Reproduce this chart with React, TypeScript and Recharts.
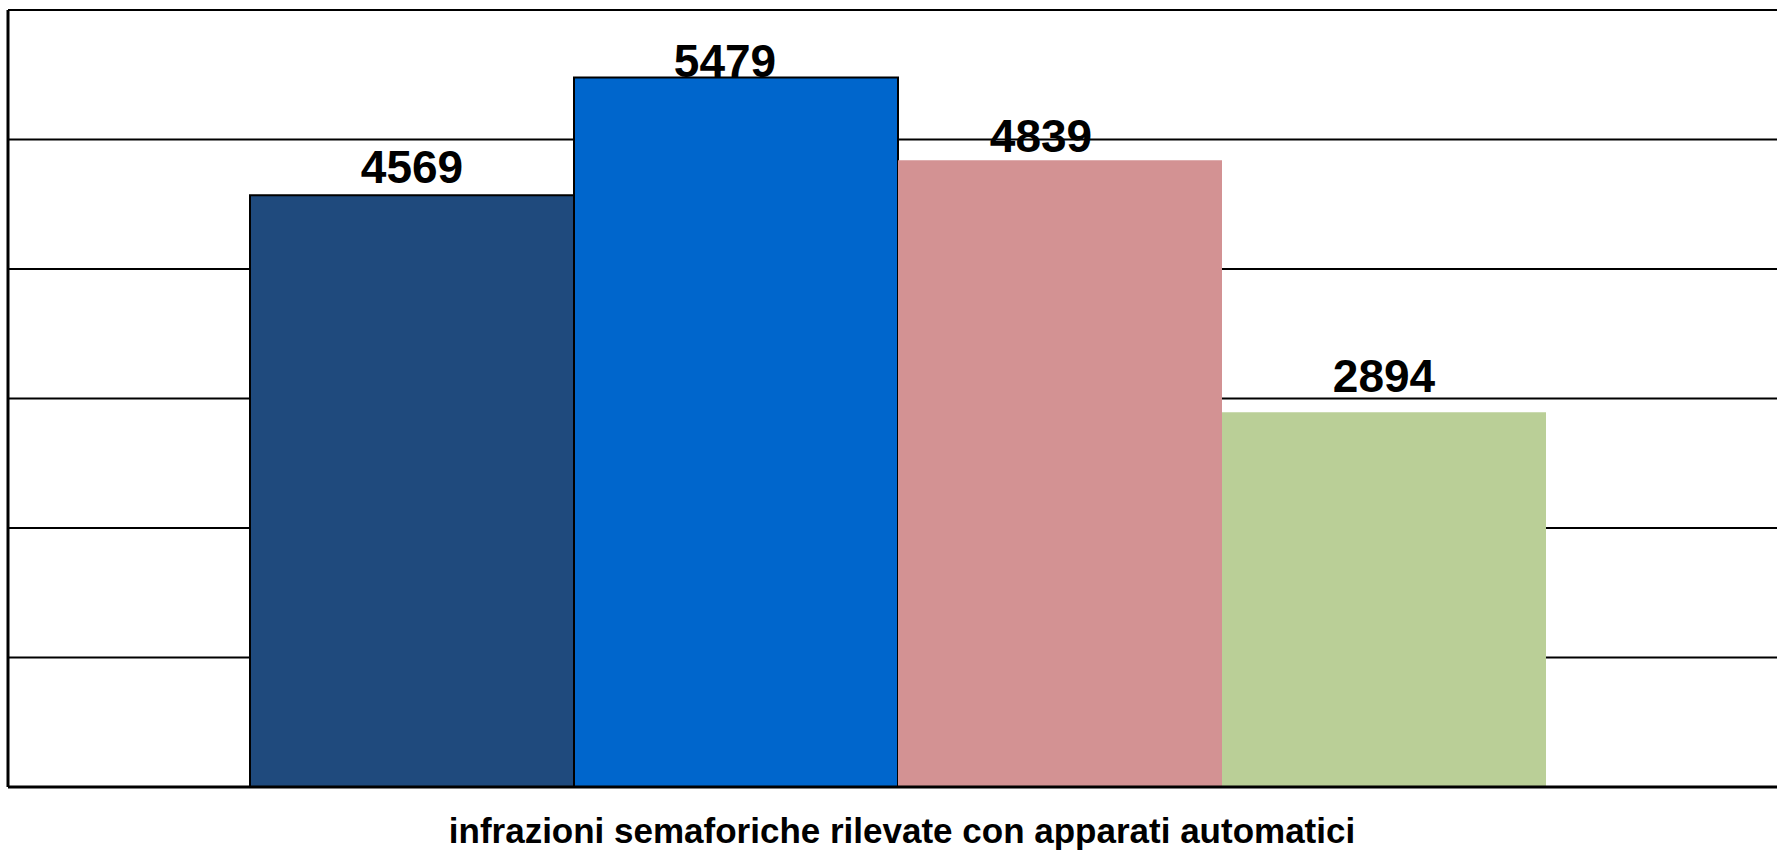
import { BarChart, Bar, XAxis, YAxis, CartesianGrid, LabelList } from "recharts";

const categories = ["infrazioni semaforiche rilevate con apparati automatici"];
const seriesKeys = ["s1", "s2", "s3", "s4"];
const seriesValues = [4569, 5479, 4839, 2894];
const yTicks = [0, 1000, 2000, 3000, 4000, 5000, 6000];

const data = categories.map((name) => {
  const row: Record<string, string | number> = { name };
  seriesKeys.forEach((k, i) => (row[k] = seriesValues[i]));
  return row;
});

// look of each series: fill, border, label nudge (dx) and gap above bar
const looks = [
  { fill: "#1F4A7D", stroke: "#000", dx: 0, gap: 12 },
  { fill: "#0066CC", stroke: "#000", dx: -11, gap: 0 },
  { fill: "#D39293", stroke: "none", dx: -19, gap: 8 },
  { fill: "#BACF97", stroke: "none", dx: 0, gap: 20 },
];

const FONT = "'Liberation Sans', Arial, sans-serif";

function valueLabel(dx: number, gap: number) {
  return (props: any) => {
    const { x, y, width, value } = props;
    return (
      <text
        x={Number(x) + Number(width) / 2 + dx}
        y={Number(y) - gap}
        textAnchor="middle"
        fontFamily={FONT}
        fontWeight="bold"
        fontSize={46}
        fill="#000"
      >
        {value}
      </text>
    );
  };
}

function CategoryTick(props: any) {
  const { x, y, payload } = props;
  return (
    <text
      x={x + 4}
      y={y + 56}
      textAnchor="middle"
      fontFamily={FONT}
      fontWeight="bold"
      fontSize={35}
      fill="#000"
    >
      {payload.value}
    </text>
  );
}

const NoTick = () => <g />;

export default function App() {
  return (
    <div
      style={{
        position: "fixed",
        left: 0,
        top: 0,
        width: 1777,
        height: 850,
        overflow: "hidden",
        background: "#fff",
      }}
    >
      <BarChart
        width={1800}
        height={850}
        data={data}
        margin={{ top: 10, right: 12, bottom: 0, left: 6 }}
        barCategoryGap={242}
        barGap={0}
      >
        <CartesianGrid horizontal vertical={false} stroke="#000" strokeWidth={2} />
        <YAxis
          type="number"
          width={2}
          domain={[0, 6000]}
          ticks={yTicks}
          interval={0}
          tick={<NoTick />}
          tickLine={false}
          axisLine={{ stroke: "#000", strokeWidth: 3 }}
        />
        <XAxis
          dataKey="name"
          height={63}
          interval={0}
          tickSize={0}
          tickMargin={0}
          tickLine={false}
          tick={<CategoryTick />}
          axisLine={{ stroke: "#000", strokeWidth: 3 }}
        />
        {seriesKeys.map((k, i) => (
          <Bar
            key={k}
            dataKey={k}
            fill={looks[i].fill}
            stroke={looks[i].stroke}
            strokeWidth={2}
            isAnimationActive={false}
          >
            <LabelList dataKey={k} content={valueLabel(looks[i].dx, looks[i].gap)} />
          </Bar>
        ))}
      </BarChart>
    </div>
  );
}
